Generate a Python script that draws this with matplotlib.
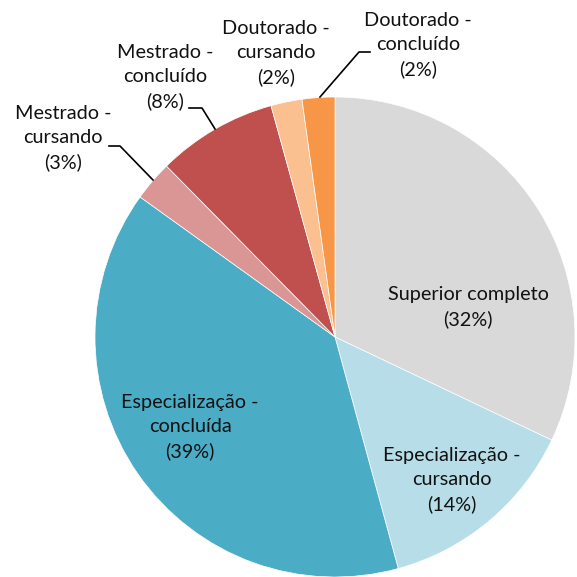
import matplotlib
matplotlib.use("Agg")
import matplotlib.pyplot as plt

categories = ["Superior completo", "Especialização -\ncursando", "Especialização -\nconcluída",
              "Mestrado -\ncursando", "Mestrado -\nconcluído", "Doutorado -\ncursando",
              "Doutorado -\nconcluído"]
values = [32.1, 13.7, 39.2, 2.7, 8.1, 2.1, 2.2]
colors = ["#D9D9D9", "#B7DEE8", "#4BACC6", "#D99694", "#C0504D", "#FAC090", "#F79646"]

W = H = 577
fig = plt.figure(figsize=(5.77, 5.77), dpi=100)
ax = fig.add_axes([0, 0, 1, 1])

cx, cy, r = 335, H - 337, 240
ax.pie(values, colors=colors, startangle=90, counterclock=False, center=(cx, cy), radius=r,
       wedgeprops=dict(edgecolor="white", linewidth=0.5), frame=True)
ax.set_xlim(0, W)
ax.set_ylim(0, H)
ax.set_aspect("equal")
ax.axis("off")

# label positions (pixel coords, top-left origin)
label_pos = [(468, 307), (452, 480), (190, 427), (63, 138), (165, 77), (276, 53), (418, 45)]
for cat, v, (x, y) in zip(categories, values, label_pos):
    txt = f"{cat}\n({round(v)}%)"
    ax.text(x, H - y, txt, ha="center", va="center", fontsize=14.3, family=["Lato", "DejaVu Sans"],
            color="#111111", linespacing=1.5)

# leader lines
leaders = [
    [(109, 146), (120, 146), (153, 180)],
    [(189, 108), (202, 108), (215, 129)],
    [(370, 52), (359, 52), (320, 97)],
]
for pts in leaders:
    xs = [p[0] for p in pts]
    ys = [H - p[1] for p in pts]
    ax.plot(xs, ys, color="black", linewidth=1.2)

fig.savefig("out.png", dpi=100)
